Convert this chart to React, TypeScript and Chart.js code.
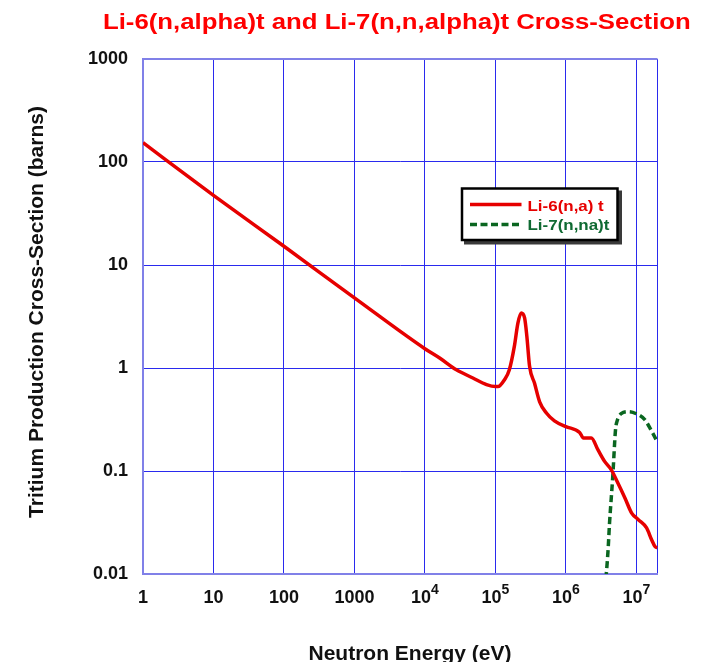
import React, { useEffect, useRef } from "react";
import { Chart, registerables } from "chart.js";

Chart.register(...registerables);

// ---- data ----
const chartTitle = "Li-6(n,alpha)t and Li-7(n,n,alpha)t Cross-Section";
const xAxisTitle = "Neutron Energy (eV)";
const yAxisTitle = "Tritium Production Cross-Section (barns)";

const li6Label = "Li-6(n,a) t";
const li7Label = "Li-7(n,na)t";

const li6Energy = [
  1, 10, 100, 1000, 1e4, 1.62e4, 2.8e4, 4.8e4, 7.5e4, 1e5, 1.09e5, 1.35e5, 1.58e5, 1.86e5,
  2.09e5, 2.33e5, 2.6e5, 2.8e5, 3.06e5, 3.6e5, 4.25e5, 5.3e5, 6.9e5, 1e6, 1.57e6, 1.78e6,
  2.3e6, 2.85e6, 3.55e6, 4.4e6, 5.5e6, 6.9e6, 8.6e6, 1.07e7, 1.4e7, 1.65e7, 1.84e7, 2e7,
];
const li6Sigma = [
  154, 47.5, 15.2, 4.8, 1.54, 1.25, 0.96, 0.8, 0.69, 0.66, 0.66, 0.77, 0.96, 1.62,
  2.73, 3.42, 3.06, 2.03, 1.04, 0.71, 0.47, 0.366, 0.307, 0.27, 0.237, 0.209,
  0.209, 0.161, 0.124, 0.103, 0.076, 0.0547, 0.039, 0.0337, 0.028, 0.0215, 0.0185, 0.018,
];

const li7Energy = [3.6e6, 3.98e6, 4.17e6, 4.64e6, 5.07e6, 5.3e6, 6.1e6, 7.9e6, 1e7, 1.32e7, 1.62e7, 2e7];
const li7Sigma = [0.007, 0.0172, 0.031, 0.089, 0.25, 0.3, 0.36, 0.377, 0.36, 0.315, 0.25, 0.19];

const xTickValues = [1, 10, 100, 1000, 1e4, 1e5, 1e6, 1e7];
const xTickBase = ["1", "10", "100", "1000", "10", "10", "10", "10"];
const xTickExp = ["", "", "", "", "4", "5", "6", "7"];
const xMin = 1;
const xMax = 2e7;

const yTickValues = [0.01, 0.1, 1, 10, 100, 1000];
const yTickLabels = ["0.01", "0.1", "1", "10", "100", "1000"];
const yMin = 0.01;
const yMax = 1000;

// ---- styles ----
const FONT = "'Liberation Sans', Arial, Helvetica, sans-serif";
const RED = "#e60000";
const GREEN = "#0a6620";
const GRID = "#2a2aee";
const BORDER = "#8080e8";
const TEXT = "#111111";

function drawText(
  ctx: CanvasRenderingContext2D,
  s: string,
  x: number,
  y: number,
  font: string,
  color: string,
  align: "left" | "center" | "right",
  sx = 1
) {
  ctx.save();
  ctx.font = font;
  ctx.fillStyle = color;
  ctx.textBaseline = "alphabetic";
  ctx.textAlign = "left";
  const w = ctx.measureText(s).width * sx;
  const left = align === "center" ? x - w / 2 : align === "right" ? x - w : x;
  ctx.translate(left, y);
  ctx.scale(sx, 1);
  ctx.fillText(s, 0, 0);
  ctx.restore();
}

const decorPlugin = {
  id: "decor",
  afterDatasetsDraw(chart: any) {
    const ctx: CanvasRenderingContext2D = chart.ctx;
    const xs = chart.scales.x;
    const ys = chart.scales.y;
    const area = chart.chartArea;

    // title
    drawText(ctx, chartTitle, 103, 28.5, `bold 22px ${FONT}`, "#ff0000", "left", 1.17);

    // y tick labels
    yTickValues.forEach((v, i) => {
      const py = ys.getPixelForValue(v);
      drawText(ctx, yTickLabels[i], area.left - 15, py + 5, `bold 18px ${FONT}`, TEXT, "right");
    });

    // x tick labels (with superscripts)
    xTickValues.forEach((v, i) => {
      const px = xs.getPixelForValue(v);
      ctx.save();
      ctx.font = `bold 18px ${FONT}`;
      const wb = ctx.measureText(xTickBase[i]).width;
      ctx.font = `bold 14px ${FONT}`;
      const we = xTickExp[i] ? ctx.measureText(xTickExp[i]).width : 0;
      ctx.restore();
      const left = px - (wb + we) / 2;
      drawText(ctx, xTickBase[i], left, 603, `bold 18px ${FONT}`, TEXT, "left");
      if (xTickExp[i]) drawText(ctx, xTickExp[i], left + wb, 594, `bold 14px ${FONT}`, TEXT, "left");
    });

    // axis titles
    drawText(ctx, xAxisTitle, 410, 659.5, `bold 21px ${FONT}`, TEXT, "center");
    ctx.save();
    ctx.translate(43, 312);
    ctx.rotate(-Math.PI / 2);
    drawText(ctx, yAxisTitle, 0, 0, `bold 21px ${FONT}`, TEXT, "center");
    ctx.restore();

    // legend box
    const bx = 462, by = 188.5, bw = 155.5, bh = 51.5;
    ctx.save();
    ctx.fillStyle = "#3a3a3a";
    ctx.fillRect(bx + 2, by + 2, bw + 2.5, bh + 2.5);
    ctx.fillStyle = "#ffffff";
    ctx.fillRect(bx, by, bw, bh);
    ctx.strokeStyle = "#000000";
    ctx.lineWidth = 2.5;
    ctx.strokeRect(bx, by, bw, bh);

    ctx.lineWidth = 3.5;
    ctx.strokeStyle = RED;
    ctx.beginPath();
    ctx.moveTo(470, 204.5);
    ctx.lineTo(521.5, 204.5);
    ctx.stroke();

    ctx.strokeStyle = GREEN;
    ctx.setLineDash([7, 3.5]);
    ctx.beginPath();
    ctx.moveTo(470, 224.5);
    ctx.lineTo(521.5, 224.5);
    ctx.stroke();
    ctx.setLineDash([]);
    ctx.restore();

    drawText(ctx, li6Label, 527.5, 210.5, `bold 15px ${FONT}`, RED, "left", 1.13);
    drawText(ctx, li7Label, 527.5, 230, `bold 15px ${FONT}`, "#0f6a32", "left", 1.13);
  },
};

export default function App() {
  const ref = useRef<HTMLCanvasElement | null>(null);

  useEffect(() => {
    if (!ref.current) return;
    const chart = new Chart(ref.current, {
      type: "line",
      data: {
        datasets: [
          {
            label: li6Label,
            data: li6Energy.map((x, i) => ({ x, y: li6Sigma[i] })),
            borderColor: RED,
            borderWidth: 3.5,
            pointRadius: 0,
            fill: false,
            cubicInterpolationMode: "monotone",
          },
          {
            label: li7Label,
            data: li7Energy.map((x, i) => ({ x, y: li7Sigma[i] })),
            borderColor: GREEN,
            borderWidth: 3.5,
            borderDash: [7, 4],
            pointRadius: 0,
            fill: false,
            cubicInterpolationMode: "monotone",
          },
        ],
      },
      options: {
        animation: false,
        responsive: false,
        maintainAspectRatio: false,
        devicePixelRatio: 1,
        layout: { padding: { top: 59, right: 46.5, left: 0, bottom: 0 } },
        plugins: {
          legend: { display: false },
          title: { display: false },
          tooltip: { enabled: false },
        },
        scales: {
          x: {
            type: "logarithmic",
            min: xMin,
            max: xMax,
            afterBuildTicks: (s: any) => {
              s.ticks = [...xTickValues, xMax].map((v) => ({ value: v }));
            },
            afterFit: (s: any) => {
              s.height = 88;
            },
            ticks: { display: false },
            grid: {
              drawTicks: false,
              color: (c: any) => (c.tick && c.tick.value === xMin ? "rgba(0,0,0,0)" : GRID),
              lineWidth: 1,
            },
            border: { color: BORDER, width: 2 },
          },
          y: {
            type: "logarithmic",
            min: yMin,
            max: yMax,
            afterBuildTicks: (s: any) => {
              s.ticks = yTickValues.map((v) => ({ value: v }));
            },
            afterFit: (s: any) => {
              s.width = 143;
            },
            ticks: { display: false },
            grid: {
              drawTicks: false,
              color: (c: any) =>
                c.tick && c.tick.value === yMin
                  ? "rgba(0,0,0,0)"
                  : c.tick && c.tick.value === yMax
                  ? BORDER
                  : GRID,
              lineWidth: (c: any) => (c.tick && c.tick.value === yMax ? 2 : 1),
            },
            border: { color: BORDER, width: 2 },
          },
        },
      },
      plugins: [decorPlugin],
    } as any);
    return () => chart.destroy();
  }, []);

  return (
    <div style={{ position: "absolute", left: 0, top: 0, width: 704, height: 662, background: "#fff" }}>
      <canvas ref={ref} width={704} height={662} style={{ display: "block", width: 704, height: 662 }} />
    </div>
  );
}
